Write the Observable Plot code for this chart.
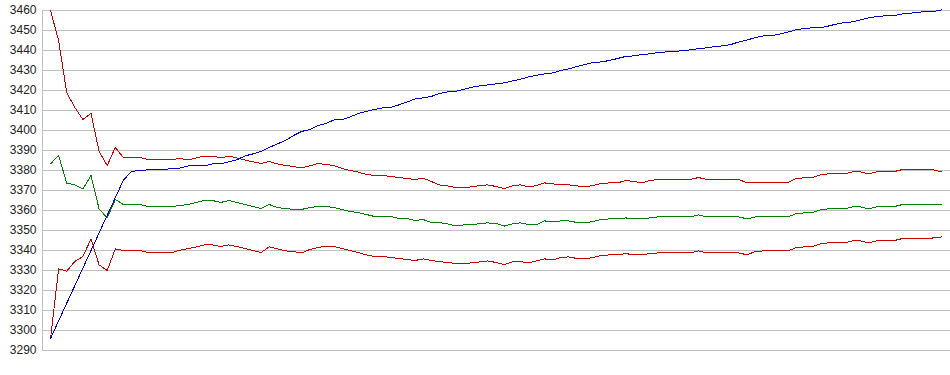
<!DOCTYPE html>
<html>
<head>
<meta charset="utf-8">
<script src="https://cdn.jsdelivr.net/npm/d3@7"></script>
<script src="https://cdn.jsdelivr.net/npm/@observablehq/plot@0.6"></script>
<style>
  html, body { margin: 0; padding: 0; background: #fff; }
  #chart svg { display: block; }
</style>
</head>
<body>
<div id="chart"></div>
<script>
// y-axis tick labels
const yTicks = [3290, 3300, 3310, 3320, 3330, 3340, 3350, 3360, 3370, 3380, 3390, 3400, 3410, 3420, 3430, 3440, 3450, 3460];

// upper red band
const upper = [3460, 3445, 3419, 3411.5, 3405.5, 3408.5, 3389.5, 3382.5, 3391.5, 3386.5,
  3386.5, 3386.5, 3385.5, 3385.3, 3385.3, 3385.5, 3386, 3385.3, 3386.3, 3387.2,
  3387.2, 3386.3, 3387.2, 3386.3, 3385.3, 3384.3, 3383.5, 3384.5, 3383.3, 3382.5,
  3382, 3381.3, 3382.3, 3383.5, 3383, 3382.5, 3381, 3380, 3379.2, 3378,
  3377.5, 3377.5, 3377, 3376.5, 3376, 3375.5, 3376.2, 3374.5, 3372.8, 3372.3,
  3371.5, 3371.5, 3371.8, 3372.5, 3372.8, 3372, 3371, 3372.3, 3372.8, 3371.8,
  3372.5, 3373.8, 3373.3, 3372.8, 3372.8, 3372.3, 3371.8, 3372.5, 3373.5, 3373.8,
  3373.8, 3375, 3374.5, 3373.8, 3375, 3375.5, 3375.5, 3375.5, 3375.5, 3375.5,
  3376.5, 3375.5, 3375.5, 3375.5, 3375.5, 3375.5, 3373.8, 3373.8, 3373.8, 3373.8,
  3373.8, 3373.8, 3376, 3376.3, 3376.3, 3377.8, 3378.3, 3378.3, 3378.3, 3379.3,
  3379.3, 3378.3, 3379.3, 3379.3, 3379.3, 3380.3, 3380.3, 3380.3, 3380.3, 3380.3,
  3379.3];

// middle green line
const middle = [3383.3, 3387.5, 3373.7, 3372.8, 3370.8, 3377.5, 3360.8, 3356.3, 3365.5, 3363,
  3363, 3363, 3362, 3362, 3362, 3362, 3362.5, 3363, 3364, 3365,
  3365, 3364, 3365, 3364, 3363, 3362, 3361, 3363, 3361.5, 3361,
  3360.5, 3360.5, 3361.5, 3362, 3362, 3361.5, 3360.5, 3359.5, 3359, 3358,
  3357, 3357, 3357, 3356, 3356, 3355, 3355.5, 3354, 3354, 3353.3,
  3352.3, 3352.8, 3352.8, 3353.5, 3353.8, 3353.5, 3352.2, 3353.3, 3353.8, 3353,
  3352.8, 3354.8, 3354.3, 3354.8, 3354.8, 3354, 3353.8, 3354.5, 3355.5, 3355.8,
  3355.8, 3356.3, 3355.8, 3355.8, 3356.3, 3356.8, 3356.8, 3356.8, 3356.8, 3356.8,
  3357.8, 3356.8, 3356.8, 3356.8, 3356.8, 3356.8, 3355.8, 3356.8, 3356.8, 3356.8,
  3356.8, 3356.8, 3358.3, 3358.8, 3358.8, 3360.3, 3360.8, 3360.8, 3360.8, 3361.8,
  3361.8, 3360.8, 3361.8, 3361.8, 3361.8, 3362.8, 3362.8, 3362.8, 3362.8, 3362.8,
  3362.8];

// lower red band
const lower = [3295.8, 3330.8, 3329.7, 3334.5, 3337, 3345.8, 3332.8, 3330, 3340.8, 3340,
  3340, 3340, 3339, 3339, 3339, 3339, 3340.2, 3341, 3341.8, 3342.8,
  3342.8, 3342, 3342.8, 3342, 3341, 3340, 3339, 3341.8, 3340.8, 3339.8,
  3339.5, 3338.8, 3340.5, 3341.5, 3342.2, 3342, 3341, 3340, 3339, 3337.8,
  3337, 3337, 3336.5, 3336, 3335.5, 3335, 3335.8, 3335, 3334.5, 3334,
  3333.5, 3333.5, 3333.8, 3334.3, 3334.8, 3334, 3333, 3334.3, 3334.5, 3333.8,
  3334.8, 3335.8, 3335.3, 3336.5, 3336.8, 3336, 3335.8, 3336.5, 3337.5, 3337.8,
  3337.8, 3338.5, 3337.8, 3337.8, 3338.5, 3338.8, 3338.8, 3338.8, 3338.8, 3338.8,
  3339.8, 3338.8, 3338.8, 3338.8, 3338.8, 3338.8, 3337.8, 3339.5, 3339.8, 3339.8,
  3339.8, 3339.8, 3341.3, 3341.8, 3341.8, 3343.3, 3343.8, 3343.8, 3343.8, 3344.8,
  3344.8, 3343.8, 3344.8, 3344.8, 3344.8, 3345.8, 3345.8, 3345.8, 3345.8, 3346.3,
  3346.8];

// rising blue line
const trend = [3296, 3304.8, 3313.6, 3322.4, 3331.2, 3340, 3348.8, 3357.6, 3366.4, 3375.2,
  3379.5, 3380, 3380.3, 3380.3, 3380.3, 3381.2, 3381.2, 3382.3, 3382.3, 3382.3,
  3383.3, 3383.3, 3384.3, 3385.3, 3387.3, 3388.3, 3389.5, 3391.5, 3393.3, 3395,
  3397.5, 3399.5, 3400.5, 3402.5, 3403.5, 3405.3, 3405.5, 3406.8, 3408.5, 3409.6,
  3410.5, 3411.3, 3411.5, 3412.8, 3414.2, 3415.8, 3416.3, 3417, 3418.5, 3419.3,
  3419.6, 3420.6, 3421.6, 3422.3, 3422.8, 3423.3, 3423.8, 3424.8, 3425.6, 3426.8,
  3427.6, 3428.3, 3428.8, 3430, 3430.8, 3432, 3433, 3434, 3434.3, 3435,
  3436, 3437, 3437.3, 3438, 3438.3, 3439, 3439.3, 3439.3, 3440, 3440.3,
  3441, 3441.3, 3442, 3442.3, 3443, 3444.3, 3445.2, 3446.5, 3447.3, 3447.3,
  3448.2, 3449.2, 3450.3, 3451, 3451.3, 3451.3, 3452.2, 3453.2, 3454, 3454.3,
  3455.3, 3456.3, 3457, 3457.3, 3457.3, 3458.2, 3458.5, 3459.2, 3459.3, 3459.5,
  3460.3];

const seriesNames = ["upper", "middle", "lower", "trend"];
const seriesColors = ["#c80000", "#008000", "#c80000", "#0000c8"];
const seriesValues = [upper, middle, lower, trend];

const rows = seriesValues.flatMap((vals, k) =>
  vals.map((v, i) => ({step: i, value: v, series: seriesNames[k]})));

const chart = Plot.plot({
  width: 950,
  height: 376,
  marginLeft: 42,
  marginRight: 0,
  marginTop: 10,
  marginBottom: 26,
  style: {fontFamily: "'Liberation Sans', Arial, sans-serif", fontSize: "12px", background: "#fff"},
  x: {domain: [0, upper.length - 1], insetLeft: 8, insetRight: 9, axis: null},
  y: {domain: [yTicks[0], yTicks[yTicks.length - 1]], axis: null},
  color: {domain: seriesNames, range: seriesColors},
  marks: [
    Plot.ruleY(yTicks, {stroke: "#c0c0c0", strokeWidth: 1}),
    Plot.frame({anchor: "left", stroke: "#c0c0c0"}),
    Plot.axisY({ticks: yTicks, tickSize: 0, tickPadding: 6, label: null, fill: "#222", tickFormat: d => String(d), fontSize: 12}),
    Plot.line(rows.filter(d => d.series !== "trend"), {x: "step", y: "value", z: "series", stroke: "series", strokeWidth: 1, shapeRendering: "crispEdges"}),
    Plot.line(rows.filter(d => d.series === "trend"), {x: "step", y: "value", stroke: "series", strokeWidth: 1, shapeRendering: "crispEdges"})
  ]
});
document.getElementById("chart").append(chart);
</script>
</body>
</html>
